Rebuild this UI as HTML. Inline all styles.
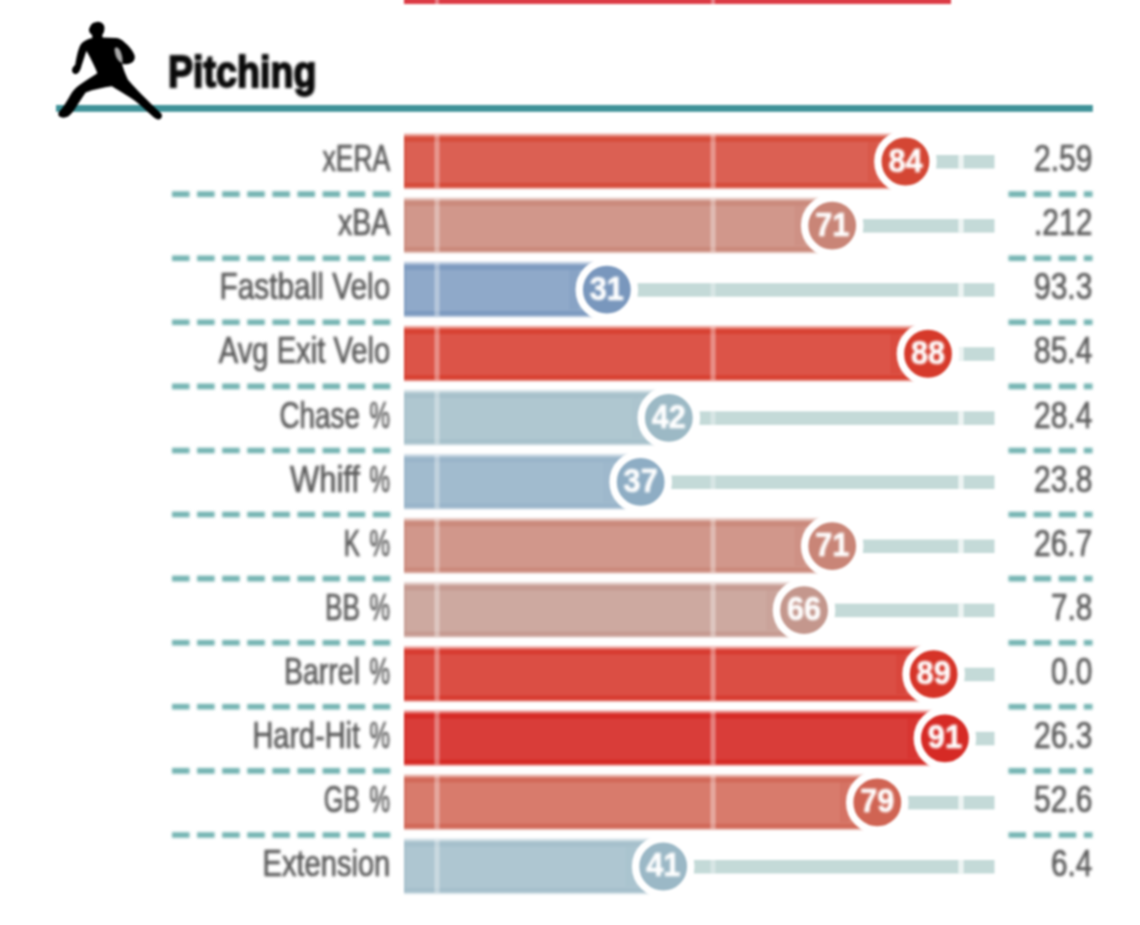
<!DOCTYPE html>
<html lang="en"><head><meta charset="utf-8"><title>Pitching</title>
<style>
html,body{margin:0;padding:0;background:#fff;}
body{width:1140px;height:925px;overflow:hidden;}
svg{display:block;}
text{font-family:"Liberation Sans",Arial,sans-serif;}
.lbl,.val{font-size:36.2px;fill:#5a5a5a;stroke:#5a5a5a;stroke-width:.7px;}
.num{font-size:33px;font-weight:bold;fill:#fff;stroke:#fff;stroke-width:.6px;text-anchor:middle;}
.ttl{font-size:45px;font-weight:bold;fill:#0a0a0a;stroke:#0a0a0a;stroke-width:1.8px;}
</style></head><body>
<svg width="1140" height="925" viewBox="0 0 1140 925">
<defs><filter id="bl" color-interpolation-filters="sRGB" x="-5%" y="-5%" width="110%" height="110%"><feGaussianBlur stdDeviation="0.9"/></filter><filter id="bt" color-interpolation-filters="sRGB" x="-5%" y="-5%" width="110%" height="110%"><feGaussianBlur stdDeviation="1.6"/></filter><filter id="bn" color-interpolation-filters="sRGB" x="-5%" y="-5%" width="110%" height="110%"><feGaussianBlur stdDeviation="1.4"/></filter></defs>
<g filter="url(#bl)">
<rect x="0" y="0" width="1140" height="925" fill="#fff"/>

<rect x="404" y="-10" width="547" height="14" fill="#dc3b45"/>
<rect x="435" y="-10" width="4" height="14" fill="#fff" opacity=".35"/><rect x="711" y="-10" width="4" height="14" fill="#fff" opacity=".35"/>
<rect x="56" y="105" width="1036.8" height="6.8" fill="#3f9298"/>
<g id="icon" transform="translate(50,15) scale(0.1189)"><path fill="#000" d="M395 58 C432 54 462 80 458 115 C456 140 450 155 440 166 L442 190 L560 194 C585 197 608 212 628 232 C668 265 702 305 713 345 C716 375 702 395 682 404 C662 413 642 417 624 414 L606 407 C613 442 632 492 656 545 C702 600 772 670 842 740 C882 780 917 810 939 832 C947 855 937 873 917 878 C902 881 887 873 872 861 C822 816 772 766 722 727 C672 690 602 650 520 600 C450 612 370 625 300 652 C272 690 242 740 212 787 C192 817 172 842 152 854 C127 867 95 867 76 852 C63 837 70 815 93 795 C118 765 148 715 173 670 C188 640 213 613 248 588 C288 558 348 523 398 490 C383 450 358 400 333 350 C320 325 312 308 306 302 C294 340 277 390 264 430 C257 460 247 482 227 495 C205 503 185 487 185 462 C187 445 197 432 212 420 C219 375 229 320 242 285 C252 250 272 225 302 212 C322 203 340 198 356 194 L354 168 C340 158 330 145 328 128 C326 118 332 108 336 100 C342 78 362 60 395 58 Z"/><path fill="#a8a8a8" d="M542 285 Q560 255 588 295 Q615 350 608 405 Q578 398 555 350 Q545 320 542 285 Z"/></g>
<g>
<rect x="404" y="155.00" width="590.5" height="13.5" fill="#c4dad8"/>
<rect x="958.3" y="155.00" width="5.4" height="13.5" fill="#fff" opacity=".7"/>
<rect x="710.5" y="155.00" width="5" height="13.5" fill="#fff" opacity=".33"/>
<linearGradient id="g0" x1="0" y1="0" x2="0" y2="1"><stop offset="0" stop-color="#d64d3c" stop-opacity="0"/><stop offset="0.0919" stop-color="#d64d3c"/><stop offset="0.1508" stop-color="#d64d3c"/><stop offset="0.1785" stop-color="#db6053"/><stop offset="0.8648" stop-color="#db6053"/><stop offset="0.8856" stop-color="#d64d3c"/><stop offset="0.9411" stop-color="#d64d3c"/><stop offset="1" stop-color="#d64d3c" stop-opacity="0"/></linearGradient>
<rect x="404" y="132.30" width="501.46" height="57.70" fill="url(#g0)"/>
<rect x="404" y="137.30" width="2.5" height="48.70" fill="#d64d3c" opacity=".5"/>
<rect x="434.4" y="134.30" width="5.2" height="53.70" fill="#fff" opacity=".34"/>
<rect x="710.4" y="134.30" width="5.2" height="53.70" fill="#fff" opacity=".34"/>
<rect x="867.96" y="141.30" width="9" height="40.20" fill="#d64d3c" opacity=".4"/>
<circle cx="905.46" cy="161.50" r="27.6" fill="#d44634" stroke="#fff" stroke-width="7.4"/>
</g>
<g>
<rect x="404" y="219.09" width="590.5" height="13.5" fill="#c4dad8"/>
<rect x="958.3" y="219.09" width="5.4" height="13.5" fill="#fff" opacity=".7"/>
<rect x="710.5" y="219.09" width="5" height="13.5" fill="#fff" opacity=".33"/>
<linearGradient id="g1" x1="0" y1="0" x2="0" y2="1"><stop offset="0" stop-color="#cb8a7c" stop-opacity="0"/><stop offset="0.0919" stop-color="#cb8a7c"/><stop offset="0.1508" stop-color="#cb8a7c"/><stop offset="0.1785" stop-color="#d1978b"/><stop offset="0.8648" stop-color="#d1978b"/><stop offset="0.8856" stop-color="#cb8a7c"/><stop offset="0.9411" stop-color="#cb8a7c"/><stop offset="1" stop-color="#cb8a7c" stop-opacity="0"/></linearGradient>
<rect x="404" y="196.39" width="428.21" height="57.70" fill="url(#g1)"/>
<rect x="404" y="201.39" width="2.5" height="48.70" fill="#cb8a7c" opacity=".5"/>
<rect x="434.4" y="198.39" width="5.2" height="53.70" fill="#fff" opacity=".34"/>
<rect x="710.4" y="198.39" width="5.2" height="53.70" fill="#fff" opacity=".34"/>
<rect x="794.71" y="205.39" width="9" height="40.20" fill="#cb8a7c" opacity=".4"/>
<circle cx="832.21" cy="225.59" r="27.6" fill="#c98577" stroke="#fff" stroke-width="7.4"/>
</g>
<g>
<rect x="404" y="283.18" width="590.5" height="13.5" fill="#c4dad8"/>
<rect x="958.3" y="283.18" width="5.4" height="13.5" fill="#fff" opacity=".7"/>
<rect x="710.5" y="283.18" width="5" height="13.5" fill="#fff" opacity=".33"/>
<linearGradient id="g2" x1="0" y1="0" x2="0" y2="1"><stop offset="0" stop-color="#7e9bc0" stop-opacity="0"/><stop offset="0.0919" stop-color="#7e9bc0"/><stop offset="0.1508" stop-color="#7e9bc0"/><stop offset="0.1785" stop-color="#8fa9c9"/><stop offset="0.8648" stop-color="#8fa9c9"/><stop offset="0.8856" stop-color="#7e9bc0"/><stop offset="0.9411" stop-color="#7e9bc0"/><stop offset="1" stop-color="#7e9bc0" stop-opacity="0"/></linearGradient>
<rect x="404" y="260.48" width="202.85" height="57.70" fill="url(#g2)"/>
<rect x="404" y="265.48" width="2.5" height="48.70" fill="#7e9bc0" opacity=".5"/>
<rect x="434.4" y="262.48" width="5.2" height="53.70" fill="#fff" opacity=".34"/>
<rect x="569.35" y="269.48" width="9" height="40.20" fill="#7e9bc0" opacity=".4"/>
<circle cx="606.85" cy="289.68" r="27.6" fill="#7997bd" stroke="#fff" stroke-width="7.4"/>
</g>
<g>
<rect x="404" y="347.27" width="590.5" height="13.5" fill="#c4dad8"/>
<rect x="958.3" y="347.27" width="5.4" height="13.5" fill="#fff" opacity=".7"/>
<rect x="710.5" y="347.27" width="5" height="13.5" fill="#fff" opacity=".33"/>
<linearGradient id="g3" x1="0" y1="0" x2="0" y2="1"><stop offset="0" stop-color="#d84233" stop-opacity="0"/><stop offset="0.0919" stop-color="#d84233"/><stop offset="0.1508" stop-color="#d84233"/><stop offset="0.1785" stop-color="#dc5448"/><stop offset="0.8648" stop-color="#dc5448"/><stop offset="0.8856" stop-color="#d84233"/><stop offset="0.9411" stop-color="#d84233"/><stop offset="1" stop-color="#d84233" stop-opacity="0"/></linearGradient>
<rect x="404" y="324.57" width="523.99" height="57.70" fill="url(#g3)"/>
<rect x="404" y="329.57" width="2.5" height="48.70" fill="#d84233" opacity=".5"/>
<rect x="434.4" y="326.57" width="5.2" height="53.70" fill="#fff" opacity=".34"/>
<rect x="710.4" y="326.57" width="5.2" height="53.70" fill="#fff" opacity=".34"/>
<rect x="890.49" y="333.57" width="9" height="40.20" fill="#d84233" opacity=".4"/>
<circle cx="927.99" cy="353.77" r="27.6" fill="#d63a2b" stroke="#fff" stroke-width="7.4"/>
</g>
<g>
<rect x="404" y="411.36" width="590.5" height="13.5" fill="#c4dad8"/>
<rect x="958.3" y="411.36" width="5.4" height="13.5" fill="#fff" opacity=".7"/>
<rect x="710.5" y="411.36" width="5" height="13.5" fill="#fff" opacity=".33"/>
<linearGradient id="g4" x1="0" y1="0" x2="0" y2="1"><stop offset="0" stop-color="#a7c1cb" stop-opacity="0"/><stop offset="0.0919" stop-color="#a7c1cb"/><stop offset="0.1508" stop-color="#a7c1cb"/><stop offset="0.1785" stop-color="#afc7d0"/><stop offset="0.8648" stop-color="#afc7d0"/><stop offset="0.8856" stop-color="#a7c1cb"/><stop offset="0.9411" stop-color="#a7c1cb"/><stop offset="1" stop-color="#a7c1cb" stop-opacity="0"/></linearGradient>
<rect x="404" y="388.66" width="264.83" height="57.70" fill="url(#g4)"/>
<rect x="404" y="393.66" width="2.5" height="48.70" fill="#a7c1cb" opacity=".5"/>
<rect x="434.4" y="390.66" width="5.2" height="53.70" fill="#fff" opacity=".34"/>
<rect x="631.33" y="397.66" width="9" height="40.20" fill="#a7c1cb" opacity=".4"/>
<circle cx="668.83" cy="417.86" r="27.6" fill="#9cb9c5" stroke="#fff" stroke-width="7.4"/>
</g>
<g>
<rect x="404" y="475.45" width="590.5" height="13.5" fill="#c4dad8"/>
<rect x="958.3" y="475.45" width="5.4" height="13.5" fill="#fff" opacity=".7"/>
<rect x="710.5" y="475.45" width="5" height="13.5" fill="#fff" opacity=".33"/>
<linearGradient id="g5" x1="0" y1="0" x2="0" y2="1"><stop offset="0" stop-color="#9ab5ca" stop-opacity="0"/><stop offset="0.0919" stop-color="#9ab5ca"/><stop offset="0.1508" stop-color="#9ab5ca"/><stop offset="0.1785" stop-color="#a1bbce"/><stop offset="0.8648" stop-color="#a1bbce"/><stop offset="0.8856" stop-color="#9ab5ca"/><stop offset="0.9411" stop-color="#9ab5ca"/><stop offset="1" stop-color="#9ab5ca" stop-opacity="0"/></linearGradient>
<rect x="404" y="452.75" width="236.66" height="57.70" fill="url(#g5)"/>
<rect x="404" y="457.75" width="2.5" height="48.70" fill="#9ab5ca" opacity=".5"/>
<rect x="434.4" y="454.75" width="5.2" height="53.70" fill="#fff" opacity=".34"/>
<rect x="603.16" y="461.75" width="9" height="40.20" fill="#9ab5ca" opacity=".4"/>
<circle cx="640.66" cy="481.95" r="27.6" fill="#8eadc4" stroke="#fff" stroke-width="7.4"/>
</g>
<g>
<rect x="404" y="539.54" width="590.5" height="13.5" fill="#c4dad8"/>
<rect x="958.3" y="539.54" width="5.4" height="13.5" fill="#fff" opacity=".7"/>
<rect x="710.5" y="539.54" width="5" height="13.5" fill="#fff" opacity=".33"/>
<linearGradient id="g6" x1="0" y1="0" x2="0" y2="1"><stop offset="0" stop-color="#cb8a7c" stop-opacity="0"/><stop offset="0.0919" stop-color="#cb8a7c"/><stop offset="0.1508" stop-color="#cb8a7c"/><stop offset="0.1785" stop-color="#d1978b"/><stop offset="0.8648" stop-color="#d1978b"/><stop offset="0.8856" stop-color="#cb8a7c"/><stop offset="0.9411" stop-color="#cb8a7c"/><stop offset="1" stop-color="#cb8a7c" stop-opacity="0"/></linearGradient>
<rect x="404" y="516.84" width="428.21" height="57.70" fill="url(#g6)"/>
<rect x="404" y="521.84" width="2.5" height="48.70" fill="#cb8a7c" opacity=".5"/>
<rect x="434.4" y="518.84" width="5.2" height="53.70" fill="#fff" opacity=".34"/>
<rect x="710.4" y="518.84" width="5.2" height="53.70" fill="#fff" opacity=".34"/>
<rect x="794.71" y="525.84" width="9" height="40.20" fill="#cb8a7c" opacity=".4"/>
<circle cx="832.21" cy="546.04" r="27.6" fill="#c98577" stroke="#fff" stroke-width="7.4"/>
</g>
<g>
<rect x="404" y="603.63" width="590.5" height="13.5" fill="#c4dad8"/>
<rect x="958.3" y="603.63" width="5.4" height="13.5" fill="#fff" opacity=".7"/>
<rect x="710.5" y="603.63" width="5" height="13.5" fill="#fff" opacity=".33"/>
<linearGradient id="g7" x1="0" y1="0" x2="0" y2="1"><stop offset="0" stop-color="#c69b92" stop-opacity="0"/><stop offset="0.0919" stop-color="#c69b92"/><stop offset="0.1508" stop-color="#c69b92"/><stop offset="0.1785" stop-color="#cda9a0"/><stop offset="0.8648" stop-color="#cda9a0"/><stop offset="0.8856" stop-color="#c69b92"/><stop offset="0.9411" stop-color="#c69b92"/><stop offset="1" stop-color="#c69b92" stop-opacity="0"/></linearGradient>
<rect x="404" y="580.93" width="400.04" height="57.70" fill="url(#g7)"/>
<rect x="404" y="585.93" width="2.5" height="48.70" fill="#c69b92" opacity=".5"/>
<rect x="434.4" y="582.93" width="5.2" height="53.70" fill="#fff" opacity=".34"/>
<rect x="710.4" y="582.93" width="5.2" height="53.70" fill="#fff" opacity=".34"/>
<rect x="766.54" y="589.93" width="9" height="40.20" fill="#c69b92" opacity=".4"/>
<circle cx="804.04" cy="610.13" r="27.6" fill="#c4978d" stroke="#fff" stroke-width="7.4"/>
</g>
<g>
<rect x="404" y="667.72" width="590.5" height="13.5" fill="#c4dad8"/>
<rect x="958.3" y="667.72" width="5.4" height="13.5" fill="#fff" opacity=".7"/>
<rect x="710.5" y="667.72" width="5" height="13.5" fill="#fff" opacity=".33"/>
<linearGradient id="g8" x1="0" y1="0" x2="0" y2="1"><stop offset="0" stop-color="#d83c31" stop-opacity="0"/><stop offset="0.0919" stop-color="#d83c31"/><stop offset="0.1508" stop-color="#d83c31"/><stop offset="0.1785" stop-color="#db4e44"/><stop offset="0.8648" stop-color="#db4e44"/><stop offset="0.8856" stop-color="#d83c31"/><stop offset="0.9411" stop-color="#d83c31"/><stop offset="1" stop-color="#d83c31" stop-opacity="0"/></linearGradient>
<rect x="404" y="645.02" width="529.63" height="57.70" fill="url(#g8)"/>
<rect x="404" y="650.02" width="2.5" height="48.70" fill="#d83c31" opacity=".5"/>
<rect x="434.4" y="647.02" width="5.2" height="53.70" fill="#fff" opacity=".34"/>
<rect x="710.4" y="647.02" width="5.2" height="53.70" fill="#fff" opacity=".34"/>
<rect x="896.13" y="654.02" width="9" height="40.20" fill="#d83c31" opacity=".4"/>
<circle cx="933.63" cy="674.22" r="27.6" fill="#d63428" stroke="#fff" stroke-width="7.4"/>
</g>
<g>
<rect x="404" y="731.81" width="590.5" height="13.5" fill="#c4dad8"/>
<rect x="958.3" y="731.81" width="5.4" height="13.5" fill="#fff" opacity=".7"/>
<rect x="710.5" y="731.81" width="5" height="13.5" fill="#fff" opacity=".33"/>
<linearGradient id="g9" x1="0" y1="0" x2="0" y2="1"><stop offset="0" stop-color="#d62b26" stop-opacity="0"/><stop offset="0.0919" stop-color="#d62b26"/><stop offset="0.1508" stop-color="#d62b26"/><stop offset="0.1785" stop-color="#d93d39"/><stop offset="0.8648" stop-color="#d93d39"/><stop offset="0.8856" stop-color="#d62b26"/><stop offset="0.9411" stop-color="#d62b26"/><stop offset="1" stop-color="#d62b26" stop-opacity="0"/></linearGradient>
<rect x="404" y="709.11" width="540.89" height="57.70" fill="url(#g9)"/>
<rect x="404" y="714.11" width="2.5" height="48.70" fill="#d62b26" opacity=".5"/>
<rect x="434.4" y="711.11" width="5.2" height="53.70" fill="#fff" opacity=".34"/>
<rect x="710.4" y="711.11" width="5.2" height="53.70" fill="#fff" opacity=".34"/>
<rect x="907.39" y="718.11" width="9" height="40.20" fill="#d62b26" opacity=".4"/>
<circle cx="944.89" cy="738.31" r="27.6" fill="#d62a25" stroke="#fff" stroke-width="7.4"/>
</g>
<g>
<rect x="404" y="795.90" width="590.5" height="13.5" fill="#c4dad8"/>
<rect x="958.3" y="795.90" width="5.4" height="13.5" fill="#fff" opacity=".7"/>
<rect x="710.5" y="795.90" width="5" height="13.5" fill="#fff" opacity=".33"/>
<linearGradient id="g10" x1="0" y1="0" x2="0" y2="1"><stop offset="0" stop-color="#d26a5a" stop-opacity="0"/><stop offset="0.0919" stop-color="#d26a5a"/><stop offset="0.1508" stop-color="#d26a5a"/><stop offset="0.1785" stop-color="#d87b6c"/><stop offset="0.8648" stop-color="#d87b6c"/><stop offset="0.8856" stop-color="#d26a5a"/><stop offset="0.9411" stop-color="#d26a5a"/><stop offset="1" stop-color="#d26a5a" stop-opacity="0"/></linearGradient>
<rect x="404" y="773.20" width="473.29" height="57.70" fill="url(#g10)"/>
<rect x="404" y="778.20" width="2.5" height="48.70" fill="#d26a5a" opacity=".5"/>
<rect x="434.4" y="775.20" width="5.2" height="53.70" fill="#fff" opacity=".34"/>
<rect x="710.4" y="775.20" width="5.2" height="53.70" fill="#fff" opacity=".34"/>
<rect x="839.79" y="782.20" width="9" height="40.20" fill="#d26a5a" opacity=".4"/>
<circle cx="877.29" cy="802.40" r="27.6" fill="#d06453" stroke="#fff" stroke-width="7.4"/>
</g>
<g>
<rect x="404" y="859.99" width="590.5" height="13.5" fill="#c4dad8"/>
<rect x="958.3" y="859.99" width="5.4" height="13.5" fill="#fff" opacity=".7"/>
<rect x="710.5" y="859.99" width="5" height="13.5" fill="#fff" opacity=".33"/>
<linearGradient id="g11" x1="0" y1="0" x2="0" y2="1"><stop offset="0" stop-color="#a6c0cc" stop-opacity="0"/><stop offset="0.0919" stop-color="#a6c0cc"/><stop offset="0.1508" stop-color="#a6c0cc"/><stop offset="0.1785" stop-color="#aec6d1"/><stop offset="0.8648" stop-color="#aec6d1"/><stop offset="0.8856" stop-color="#a6c0cc"/><stop offset="0.9411" stop-color="#a6c0cc"/><stop offset="1" stop-color="#a6c0cc" stop-opacity="0"/></linearGradient>
<rect x="404" y="837.29" width="259.19" height="57.70" fill="url(#g11)"/>
<rect x="404" y="842.29" width="2.5" height="48.70" fill="#a6c0cc" opacity=".5"/>
<rect x="434.4" y="839.29" width="5.2" height="53.70" fill="#fff" opacity=".34"/>
<rect x="625.69" y="846.29" width="9" height="40.20" fill="#a6c0cc" opacity=".4"/>
<circle cx="663.19" cy="866.49" r="27.6" fill="#9bb8c6" stroke="#fff" stroke-width="7.4"/>
</g>
</g>
<g filter="url(#bt)">
<text class="ttl" transform="translate(168.00,86.5) scale(0.8367,1)">Pitching</text>
<text class="lbl" transform="translate(322.50,171.20) scale(0.7328,1)">xERA</text>
<text class="val" text-anchor="end" transform="translate(1092.31,171.20) scale(0.8276,1)">2.59</text>
<line x1="172" x2="390.5" y1="194.09" y2="194.09" stroke="#74b4b2" stroke-width="5.6" stroke-dasharray="17.5 7.6"/>
<line x1="1008.5" x2="1092.5" y1="194.09" y2="194.09" stroke="#74b4b2" stroke-width="5.6" stroke-dasharray="17.5 7.6"/>
<text class="lbl" transform="translate(338.00,235.29) scale(0.7878,1)">xBA</text>
<text class="val" text-anchor="end" transform="translate(1092.31,235.29) scale(0.8276,1)">.212</text>
<line x1="172" x2="390.5" y1="258.18" y2="258.18" stroke="#74b4b2" stroke-width="5.6" stroke-dasharray="17.5 7.6"/>
<line x1="1008.5" x2="1092.5" y1="258.18" y2="258.18" stroke="#74b4b2" stroke-width="5.6" stroke-dasharray="17.5 7.6"/>
<text class="lbl" transform="translate(219.50,299.38) scale(0.8240,1)">Fastball Velo</text>
<text class="val" text-anchor="end" transform="translate(1092.31,299.38) scale(0.8276,1)">93.3</text>
<line x1="172" x2="390.5" y1="322.27" y2="322.27" stroke="#74b4b2" stroke-width="5.6" stroke-dasharray="17.5 7.6"/>
<line x1="1008.5" x2="1092.5" y1="322.27" y2="322.27" stroke="#74b4b2" stroke-width="5.6" stroke-dasharray="17.5 7.6"/>
<text class="lbl" transform="translate(218.75,363.47) scale(0.8068,1)">Avg Exit Velo</text>
<text class="val" text-anchor="end" transform="translate(1092.31,363.47) scale(0.8276,1)">85.4</text>
<line x1="172" x2="390.5" y1="386.36" y2="386.36" stroke="#74b4b2" stroke-width="5.6" stroke-dasharray="17.5 7.6"/>
<line x1="1008.5" x2="1092.5" y1="386.36" y2="386.36" stroke="#74b4b2" stroke-width="5.6" stroke-dasharray="17.5 7.6"/>
<text class="lbl" transform="translate(279.50,427.56) scale(0.7692,1)">Chase</text>
<text class="lbl" transform="translate(369.50,427.56) scale(0.6370,1)">%</text>
<text class="val" text-anchor="end" transform="translate(1092.31,427.56) scale(0.8276,1)">28.4</text>
<line x1="172" x2="390.5" y1="450.45" y2="450.45" stroke="#74b4b2" stroke-width="5.6" stroke-dasharray="17.5 7.6"/>
<line x1="1008.5" x2="1092.5" y1="450.45" y2="450.45" stroke="#74b4b2" stroke-width="5.6" stroke-dasharray="17.5 7.6"/>
<text class="lbl" transform="translate(290.00,491.65) scale(0.8549,1)">Whiff</text>
<text class="lbl" transform="translate(369.50,491.65) scale(0.6370,1)">%</text>
<text class="val" text-anchor="end" transform="translate(1092.31,491.65) scale(0.8276,1)">23.8</text>
<line x1="172" x2="390.5" y1="514.54" y2="514.54" stroke="#74b4b2" stroke-width="5.6" stroke-dasharray="17.5 7.6"/>
<line x1="1008.5" x2="1092.5" y1="514.54" y2="514.54" stroke="#74b4b2" stroke-width="5.6" stroke-dasharray="17.5 7.6"/>
<text class="lbl" transform="translate(343.75,555.74) scale(0.6730,1)">K</text>
<text class="lbl" transform="translate(369.50,555.74) scale(0.6370,1)">%</text>
<text class="val" text-anchor="end" transform="translate(1092.31,555.74) scale(0.8276,1)">26.7</text>
<line x1="172" x2="390.5" y1="578.63" y2="578.63" stroke="#74b4b2" stroke-width="5.6" stroke-dasharray="17.5 7.6"/>
<line x1="1008.5" x2="1092.5" y1="578.63" y2="578.63" stroke="#74b4b2" stroke-width="5.6" stroke-dasharray="17.5 7.6"/>
<text class="lbl" transform="translate(325.00,619.83) scale(0.7248,1)">BB</text>
<text class="lbl" transform="translate(369.50,619.83) scale(0.6370,1)">%</text>
<text class="val" text-anchor="end" transform="translate(1092.30,619.83) scale(0.8208,1)">7.8</text>
<line x1="172" x2="390.5" y1="642.72" y2="642.72" stroke="#74b4b2" stroke-width="5.6" stroke-dasharray="17.5 7.6"/>
<line x1="1008.5" x2="1092.5" y1="642.72" y2="642.72" stroke="#74b4b2" stroke-width="5.6" stroke-dasharray="17.5 7.6"/>
<text class="lbl" transform="translate(284.00,683.92) scale(0.7869,1)">Barrel</text>
<text class="lbl" transform="translate(369.50,683.92) scale(0.6370,1)">%</text>
<text class="val" text-anchor="end" transform="translate(1092.30,683.92) scale(0.8208,1)">0.0</text>
<line x1="172" x2="390.5" y1="706.81" y2="706.81" stroke="#74b4b2" stroke-width="5.6" stroke-dasharray="17.5 7.6"/>
<line x1="1008.5" x2="1092.5" y1="706.81" y2="706.81" stroke="#74b4b2" stroke-width="5.6" stroke-dasharray="17.5 7.6"/>
<text class="lbl" transform="translate(252.50,748.01) scale(0.7976,1)">Hard-Hit</text>
<text class="lbl" transform="translate(369.50,748.01) scale(0.6370,1)">%</text>
<text class="val" text-anchor="end" transform="translate(1092.31,748.01) scale(0.8276,1)">26.3</text>
<line x1="172" x2="390.5" y1="770.90" y2="770.90" stroke="#74b4b2" stroke-width="5.6" stroke-dasharray="17.5 7.6"/>
<line x1="1008.5" x2="1092.5" y1="770.90" y2="770.90" stroke="#74b4b2" stroke-width="5.6" stroke-dasharray="17.5 7.6"/>
<text class="lbl" transform="translate(323.75,812.10) scale(0.6930,1)">GB</text>
<text class="lbl" transform="translate(369.50,812.10) scale(0.6370,1)">%</text>
<text class="val" text-anchor="end" transform="translate(1092.31,812.10) scale(0.8276,1)">52.6</text>
<line x1="172" x2="390.5" y1="834.99" y2="834.99" stroke="#74b4b2" stroke-width="5.6" stroke-dasharray="17.5 7.6"/>
<line x1="1008.5" x2="1092.5" y1="834.99" y2="834.99" stroke="#74b4b2" stroke-width="5.6" stroke-dasharray="17.5 7.6"/>
<text class="lbl" transform="translate(262.50,876.19) scale(0.8038,1)">Extension</text>
<text class="val" text-anchor="end" transform="translate(1092.30,876.19) scale(0.8208,1)">6.4</text>
</g>
<g filter="url(#bn)">
<text class="num" transform="translate(905.46,171.50) scale(.93,1)">84</text>
<text class="num" transform="translate(832.21,235.59) scale(.93,1)">71</text>
<text class="num" transform="translate(606.85,299.68) scale(.93,1)">31</text>
<text class="num" transform="translate(927.99,363.77) scale(.93,1)">88</text>
<text class="num" transform="translate(668.83,427.86) scale(.93,1)">42</text>
<text class="num" transform="translate(640.66,491.95) scale(.93,1)">37</text>
<text class="num" transform="translate(832.21,556.04) scale(.93,1)">71</text>
<text class="num" transform="translate(804.04,620.13) scale(.93,1)">66</text>
<text class="num" transform="translate(933.63,684.22) scale(.93,1)">89</text>
<text class="num" transform="translate(944.89,748.31) scale(.93,1)">91</text>
<text class="num" transform="translate(877.29,812.40) scale(.93,1)">79</text>
<text class="num" transform="translate(663.19,876.49) scale(.93,1)">41</text>
</g></svg></body></html>
